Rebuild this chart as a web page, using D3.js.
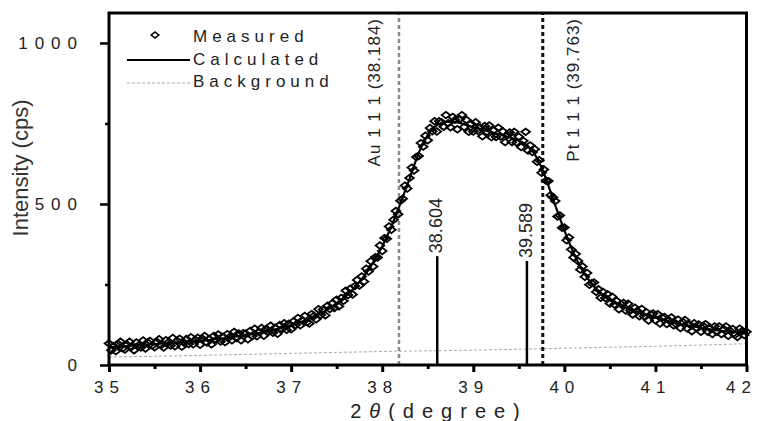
<!DOCTYPE html>
<html>
<head>
<meta charset="utf-8">
<script src="https://cdn.jsdelivr.net/npm/d3@7"></script>
<style>
  body { margin: 0; background: #fff; }
  svg { display: block; font-family: "Liberation Sans", Arial, sans-serif; }
</style>
</head>
<body>
<svg id="chart"></svg>
<script>
const WIDTH = 758;
const HEIGHT = 421;

// measured scan: 35.000 .. 42.000 deg, every 0.025 deg
const MEAS_START = 35;
const MEAS_STEP = 0.025;
const measured = [
  67, 46, 59, 43, 65, 72, 52, 48, 63, 72, 57, 46, 70, 61, 54, 76, 51, 70, 75, 60,
  55, 72, 80, 62, 54, 77, 70, 60, 84, 58, 75, 82, 57, 69, 81, 65, 86, 64, 78, 85,
  63, 82, 90, 70, 80, 64, 90, 78, 95, 73, 88, 71, 96, 87, 77, 103, 84, 98, 77, 99,
  97, 80, 106, 90, 113, 89, 102, 115, 91, 112, 103, 122, 100, 116, 97, 124, 112, 130, 109, 128,
  111, 135, 124, 146, 123, 139, 152, 133, 129, 158, 152, 142, 173, 155, 172, 154, 184, 174, 191, 177,
  203, 182, 208, 199, 231, 217, 237, 219, 245, 264, 247, 275, 259, 299, 290, 322, 306, 335, 334, 371,
  354, 394, 392, 430, 420, 451, 478, 468, 510, 516, 557, 548, 581, 613, 604, 646, 649, 689, 678, 712,
  698, 736, 726, 757, 725, 757, 754, 740, 776, 751, 738, 770, 761, 732, 763, 776, 739, 761, 724, 749,
  725, 754, 727, 738, 710, 742, 724, 744, 707, 729, 708, 737, 709, 725, 692, 713, 722, 692, 724, 691,
  709, 677, 696, 724, 666, 682, 661, 670, 631, 636, 597, 607, 572, 571, 527, 520, 509, 461, 464, 426,
  427, 387, 396, 359, 334, 345, 323, 296, 306, 274, 286, 249, 254, 256, 227, 235, 209, 227, 208, 220,
  191, 212, 188, 199, 173, 189, 193, 169, 190, 169, 157, 178, 168, 151, 174, 151, 164, 138, 157, 160,
  139, 158, 129, 147, 149, 127, 138, 148, 123, 128, 141, 115, 134, 140, 113, 126, 105, 130, 116, 126,
  103, 121, 127, 103, 114, 96, 120, 103, 120, 96, 111, 120, 91, 105, 112, 94, 87, 113, 105, 93,
  103
];

// fitted curve: 35.00 .. 42.00 deg, every 0.05 deg
const CALC_START = 35;
const CALC_STEP = 0.05;
const calculated = [
  55, 56, 57, 58, 59, 60, 61, 62, 63, 64, 65, 66, 67, 68, 69, 70, 71, 72, 73, 74,
  75, 77, 78, 80, 81, 83, 85, 87, 89, 91, 93, 95, 98, 100, 103, 106, 109, 112, 116, 120,
  124, 128, 133, 138, 144, 150, 157, 164, 172, 181, 191, 202, 214, 227, 242, 258, 276, 296, 318, 342,
  368, 398, 430, 465, 502, 540, 578, 620, 658, 690, 714, 733, 745, 751, 755, 756, 755, 752, 748, 743,
  739, 735, 731, 727, 723, 719, 715, 711, 707, 702, 697, 690, 680, 665, 643, 613, 577, 537, 496, 456,
  418, 382, 349, 319, 293, 271, 252, 236, 223, 212, 202, 194, 187, 181, 175, 170, 165, 160, 155, 151,
  147, 143, 139, 136, 132, 129, 126, 123, 120, 118, 115, 113, 111, 109, 107, 105, 104, 102, 101, 100,
  99
];

const bgAngles = [35, 35.5, 36, 36.5, 37, 37.5, 38, 38.5, 39, 39.5, 40, 40.5, 41, 41.5, 42];
const bgValues = [25, 27, 30, 33, 36, 39, 42, 44, 46, 49, 52, 55, 58, 62, 66];

const refAngles = [38.184, 39.763];
const refLabels = ["Au 1 1 1 (38.184)", "Pt 1 1 1 (39.763)"];

const peakAngles = [38.604, 39.589];
const peakHeights = [338, 323];

const xMajor = [35, 36, 37, 38, 39, 40, 41, 42];
const xMinor = [35.5, 36.5, 37.5, 38.5, 39.5, 40.5, 41.5];
const yMajor = [0, 500, 1000];
const yMinor = [250, 750];

const legendLabels = ["Measured", "Calculated", "Background"];

// --- scales ---
const x = d3.scaleLinear().domain([35, 42]).range([109, 746.5]);
const y = d3.scaleLinear().domain([0, 1093]).range([365, 13]);

const svg = d3.select("#chart")
  .attr("width", WIDTH)
  .attr("height", HEIGHT)
  .attr("viewBox", [0, 0, WIDTH, HEIGHT]);

const measPts = measured.map((v, i) => ({ a: MEAS_START + i * MEAS_STEP, v }));
const calcPts = calculated.map((v, i) => ({ a: CALC_START + i * CALC_STEP, v }));
const bgPts = bgAngles.map((a, i) => ({ a, v: bgValues[i] }));

const line = d3.line().x(d => x(d.a)).y(d => y(d.v));

// background
svg.append("path")
  .datum(bgPts)
  .attr("d", line)
  .attr("fill", "none")
  .attr("stroke", "#aaa")
  .attr("stroke-width", 1)
  .attr("stroke-dasharray", "3,2");

// reference lines (Au grey, Pt black)
svg.append("g")
  .selectAll("line")
  .data(refAngles)
  .join("line")
  .attr("x1", d => x(d)).attr("x2", d => x(d))
  .attr("y1", y(0)).attr("y2", y(1093))
  .attr("stroke", (d, i) => i === 0 ? "#8a8a8a" : "#111")
  .attr("stroke-width", (d, i) => i === 0 ? 2.5 : 3)
  .attr("stroke-dasharray", "4,3");

// label offsets from their lines
const refLabelDx = [-19, 36];
svg.append("g")
  .selectAll("text")
  .data(refAngles)
  .join("text")
  .attr("transform", (d, i) => `translate(${x(d) + refLabelDx[i]},18) rotate(-90)`)
  .attr("text-anchor", "end")
  .attr("font-size", 17)
  .attr("letter-spacing", 1)
  .attr("fill", "#222")
  .text((d, i) => refLabels[i]);

// stick peaks
svg.append("g")
  .selectAll("line")
  .data(peakAngles)
  .join("line")
  .attr("x1", d => x(d)).attr("x2", d => x(d))
  .attr("y1", y(0))
  .attr("y2", (d, i) => y(peakHeights[i]))
  .attr("stroke", "#000")
  .attr("stroke-width", 2.5);

svg.append("g")
  .selectAll("text")
  .data(peakAngles)
  .join("text")
  .attr("transform", (d, i) => `translate(${x(d) + 5},${y(peakHeights[i]) - 3}) rotate(-90)`)
  .attr("font-size", 18)
  .attr("fill", "#222")
  .text(d => d3.format(".3f")(d));

// measured markers
const marker = d3.symbol(d3.symbolSquare, 22)();
svg.append("g")
  .selectAll("path")
  .data(measPts)
  .join("path")
  .attr("d", marker)
  .attr("transform", d => `translate(${x(d.a)},${y(d.v)}) scale(1.3,1) rotate(45)`)
  .attr("fill", "none")
  .attr("stroke", "#000")
  .attr("stroke-width", 1.6);

// calculated curve
svg.append("path")
  .datum(calcPts)
  .attr("d", line)
  .attr("fill", "none")
  .attr("stroke", "#000")
  .attr("stroke-width", 2.2);

// frame
svg.append("rect")
  .attr("x", x(35)).attr("y", y(1093))
  .attr("width", x(42) - x(35))
  .attr("height", y(0) - y(1093))
  .attr("fill", "none")
  .attr("stroke", "#000")
  .attr("stroke-width", 3);

// axes
function styleAxis(g, w) {
  g.select(".domain").remove();
  g.selectAll(".tick line").attr("stroke", "#000").attr("stroke-width", w);
  g.selectAll(".tick text")
    .attr("font-size", 17)
    .attr("letter-spacing", 7)
    .attr("fill", "#222")
    .attr("font-family", "Liberation Sans, Arial, sans-serif");
}

svg.append("g")
  .attr("transform", `translate(0,${y(0)})`)
  .call(d3.axisBottom(x).tickValues(xMajor).tickSize(7).tickPadding(9).tickFormat(d3.format("d")))
  .call(g => styleAxis(g, 3))
  .call(g => g.selectAll(".tick text")
    .attr("letter-spacing", 6)
    .filter(d => d === 42)
    .attr("text-anchor", "end")
    .attr("dx", 10));

svg.append("g")
  .attr("transform", `translate(0,${y(0)})`)
  .call(d3.axisBottom(x).tickValues(xMinor).tickSize(4).tickFormat(""))
  .call(g => styleAxis(g, 3));

svg.append("g")
  .attr("transform", `translate(${x(35)},0)`)
  .call(d3.axisLeft(y).tickValues(yMajor).tickSize(9).tickPadding(16).tickFormat(d3.format("d")))
  .call(g => styleAxis(g, 2.5));

svg.append("g")
  .attr("transform", `translate(${x(35)},0)`)
  .call(d3.axisLeft(y).tickValues(yMinor).tickSize(4).tickFormat(""))
  .call(g => styleAxis(g, 2.5));

// axis titles
svg.append("text")
  .attr("transform", "translate(28,168) rotate(-90)")
  .attr("text-anchor", "middle")
  .attr("font-size", 22)
  .attr("fill", "#333")
  .text("Intensity (cps)");

const xt = svg.append("text")
  .attr("x", 439)
  .attr("y", 418)
  .attr("text-anchor", "middle")
  .attr("font-size", 20)
  .attr("letter-spacing", 8)
  .attr("fill", "#222");
xt.append("tspan").text("2");
xt.append("tspan").attr("font-style", "italic").text("θ");
xt.append("tspan").text("(degree)");

// legend
const legend = svg.append("g");
legend.selectAll("text")
  .data(legendLabels)
  .join("text")
  .attr("x", 193)
  .attr("y", (d, i) => 42 + i * 22.5)
  .attr("font-size", 17)
  .attr("letter-spacing", 5)
  .attr("fill", "#222")
  .text(d => d);

legend.append("path")
  .attr("d", d3.symbol(d3.symbolSquare, 18)())
  .attr("transform", "translate(155,35) scale(1.3,1) rotate(45)")
  .attr("fill", "#fff")
  .attr("stroke", "#000")
  .attr("stroke-width", 1.3);

legend.append("line")
  .attr("x1", 127).attr("x2", 190)
  .attr("y1", 60).attr("y2", 60)
  .attr("stroke", "#000")
  .attr("stroke-width", 2);

legend.append("line")
  .attr("x1", 127).attr("x2", 190)
  .attr("y1", 83).attr("y2", 83)
  .attr("stroke", "#aaa")
  .attr("stroke-width", 1)
  .attr("stroke-dasharray", "3,2");
</script>
</body>
</html>
